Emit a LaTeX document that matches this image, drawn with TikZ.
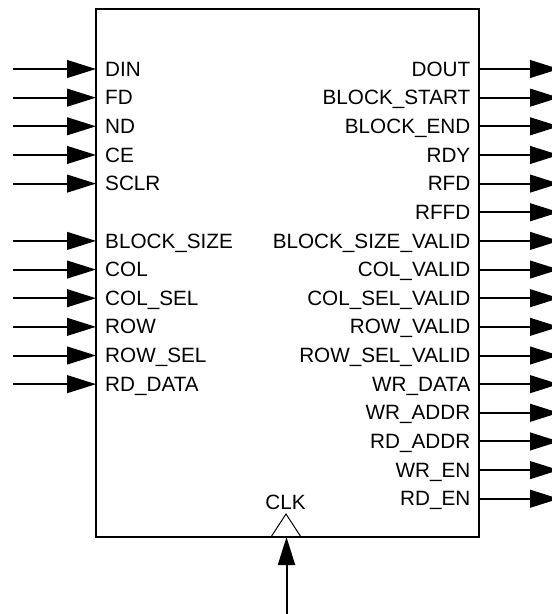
\documentclass[tikz,border=0pt]{standalone}
\usepackage{fontspec}
\setmainfont{Liberation Sans}
\usetikzlibrary{arrows.meta}
\tikzset{
  pinline/.style={line width=2pt,-{Triangle[length=29pt,width=17.7pt]}},
  blockbox/.style={draw,line width=2pt},
  pinlabel/.style={inner sep=0pt,font=\fontsize{20.7}{24}\selectfont},
}
\begin{document}
\begin{tikzpicture}[x=1pt,y=-1pt]
\useasboundingbox (0,0) rectangle (552,614);
\clip (0,0) rectangle (552,614);
% block
\draw[blockbox] (96,9) rectangle (479,537);
\coordinate (boxbottom) at (286.5,537);
% left inputs
\foreach \name/\i in {DIN/0,FD/1,ND/2,CE/3,SCLR/4,BLOCK\_SIZE/6,COL/7,COL\_SEL/8,ROW/9,ROW\_SEL/10,RD\_DATA/11}{
  \pgfmathsetmacro{\yy}{69+28.65*\i}
  \coordinate (lsrc\i) at (13,\yy);
  \coordinate (lpin\i) at (96,\yy);
  \draw[pinline] (lsrc\i) -- (lpin\i);
  \node[pinlabel,anchor=base west] (llab\i) at (105,\yy+7.1) {\name};
}
% right outputs
\foreach \name/\i in {DOUT/0,BLOCK\_START/1,BLOCK\_END/2,RDY/3,RFD/4,RFFD/5,BLOCK\_SIZE\_VALID/6,COL\_VALID/7,COL\_SEL\_VALID/8,ROW\_VALID/9,ROW\_SEL\_VALID/10,WR\_DATA/11,WR\_ADDR/12,RD\_ADDR/13,WR\_EN/14,RD\_EN/15}{
  \pgfmathsetmacro{\yy}{69+28.65*\i}
  \coordinate (rpin\i) at (479,\yy);
  \coordinate (rdst\i) at (559,\yy);
  \draw[pinline] (rpin\i) -- (rdst\i);
  \node[pinlabel,anchor=base east] (rlab\i) at (470.5,\yy+7.1) {\name};
}
% clock
\draw[line width=1pt] (271,537) -- (286,514) -- (301,537);
\node[pinlabel,anchor=base] (clklab) at (285.5,509.8) {CLK};
\coordinate (clksrc) at (286.5,614);
\draw[line width=2pt,-{Triangle[length=28pt,width=17pt]}] (clksrc) -- (boxbottom);
\end{tikzpicture}
\end{document}
